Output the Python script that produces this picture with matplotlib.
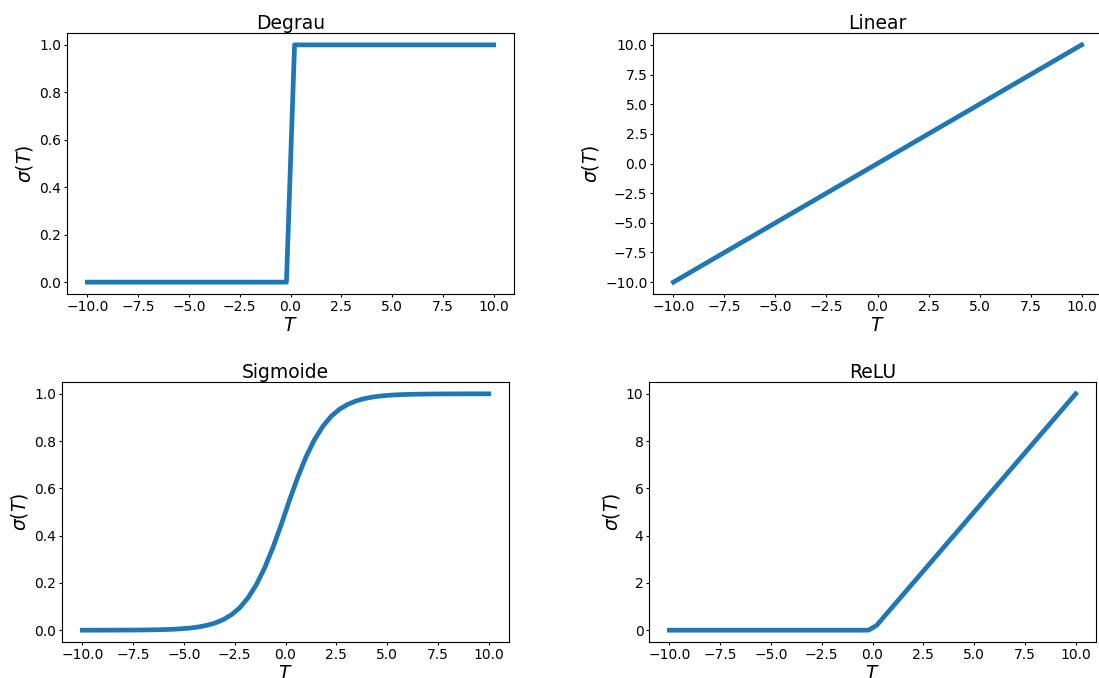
import matplotlib
matplotlib.use("Agg")
import matplotlib.pyplot as plt

# ---- data ----
step_x = [-10.0, -0.2, 0.2, 10.0]
step_y = [0.0, 0.0, 1.0, 1.0]

linear_x = [-10.0, 10.0]
linear_y = [-10.0, 10.0]

sig_x = [-10.0, -9.59, -9.18, -8.78, -8.37, -7.96, -7.55, -7.14, -6.73, -6.33,
         -5.92, -5.51, -5.10, -4.69, -4.29, -3.88, -3.47, -3.06, -2.65, -2.24,
         -1.84, -1.43, -1.02, -0.61, -0.20, 0.20, 0.61, 1.02, 1.43, 1.84,
         2.24, 2.65, 3.06, 3.47, 3.88, 4.29, 4.69, 5.10, 5.51, 5.92,
         6.33, 6.73, 7.14, 7.55, 7.96, 8.37, 8.78, 9.18, 9.59, 10.0]
sig_y = [0.0000, 0.0001, 0.0001, 0.0002, 0.0002, 0.0003, 0.0005, 0.0008, 0.0012, 0.0018,
         0.0027, 0.0040, 0.0061, 0.0091, 0.0136, 0.0203, 0.0302, 0.0447, 0.0658, 0.0958,
         0.1374, 0.1933, 0.2649, 0.3515, 0.4492, 0.5508, 0.6485, 0.7351, 0.8067, 0.8626,
         0.9042, 0.9342, 0.9553, 0.9698, 0.9797, 0.9864, 0.9909, 0.9939, 0.9960, 0.9973,
         0.9982, 0.9988, 0.9992, 0.9995, 0.9997, 0.9998, 0.9998, 0.9999, 0.9999, 1.0000]

relu_x = [-10.0, -0.2, 0.2, 10.0]
relu_y = [0.0, 0.0, 0.2, 10.0]

titles = ["Degrau", "Linear", "Sigmoide", "ReLU"]
xticks = [-10.0, -7.5, -5.0, -2.5, 0.0, 2.5, 5.0, 7.5, 10.0]

W, H = 1099, 678
fig = plt.figure(figsize=(W / 100, H / 100), dpi=100)

# axes boxes in pixels: (left, top, right, bottom)
boxes = [(67, 33, 514, 294), (653, 33, 1102, 294),
         (62, 382, 509, 642), (649, 382, 1096, 642)]
series = [(step_x, step_y), (linear_x, linear_y), (sig_x, sig_y), (relu_x, relu_y)]

TICK_FS = 10
LABEL_FS = 13.5
TITLE_FS = 13.5

for (l, t, r, b), (xs, ys), title in zip(boxes, series, titles):
    ax = fig.add_axes([l / W, 1 - b / H, (r - l) / W, (b - t) / H])
    ax.plot(xs, ys, color="#1f77b4", linewidth=3.4)
    ax.set_xticks(xticks)
    ax.set_xticklabels([f"{v:.1f}".replace("-", "\u2212") for v in xticks])
    ax.tick_params(labelsize=TICK_FS, length=2.5, width=0.8, pad=1.5)
    ax.set_title(title, fontsize=TITLE_FS, pad=3)
    ax.set_xlabel(r"$T$", fontsize=LABEL_FS, labelpad=1.5)
    ax.set_ylabel(r"$\sigma(T)$", fontsize=LABEL_FS, labelpad=3)
    for s in ax.spines.values():
        s.set_linewidth(0.8)

fig.savefig("out.png", dpi=100)
